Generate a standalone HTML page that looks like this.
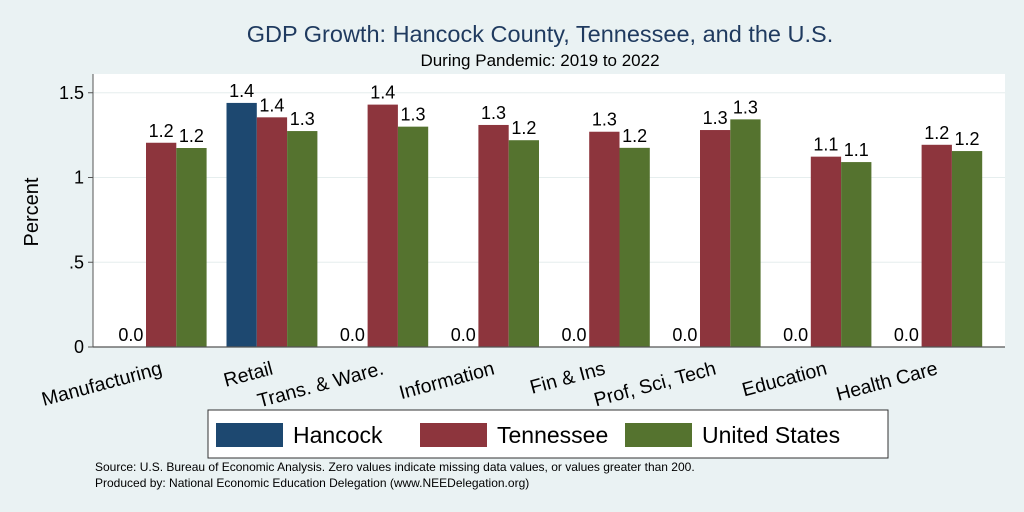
<!DOCTYPE html>
<html><head><meta charset="utf-8"><style>
body{margin:0;background:#eaf2f3;}
svg{display:block;font-family:"Liberation Sans",Arial,sans-serif;}
</style></head><body>
<svg id="chart" width="1024" height="512" viewBox="0 0 1024 512">
<rect x="0" y="0" width="1024" height="512" fill="#eaf2f3"/>
<text x="540" y="42" text-anchor="middle" font-size="23.5" fill="#1f3a5f">GDP Growth: Hancock County, Tennessee, and the U.S.</text>
<text x="540" y="66" text-anchor="middle" font-size="17" fill="#000">During Pandemic: 2019 to 2022</text>
<rect x="93" y="74" width="912" height="273" fill="#fff"/>
<g id="grid"></g>
<g id="bars"></g>
<g id="xlabels"></g>
<line x1="93" y1="74" x2="93" y2="347" stroke="#555" stroke-width="1"/>
<line x1="93" y1="347" x2="1005" y2="347" stroke="#555" stroke-width="1.2"/>
<text transform="translate(38,212) rotate(-90)" text-anchor="middle" font-size="20">Percent</text>
<g>
<rect x="208" y="410" width="680" height="48" fill="#fff" stroke="#333" stroke-width="1"/>
<rect x="216" y="423" width="67" height="24" fill="#1d4870"/>
<text x="293" y="443" font-size="23">Hancock</text>
<rect x="420" y="423" width="67" height="24" fill="#8d353d"/>
<text x="497" y="443" font-size="23">Tennessee</text>
<rect x="625" y="423" width="67" height="24" fill="#55732f"/>
<text x="702" y="443" font-size="23">United States</text>
</g>
<text x="95" y="471" font-size="12">Source: U.S. Bureau of Economic Analysis. Zero values indicate missing data values, or values greater than 200.</text>
<text x="95" y="487" font-size="12">Produced by: National Economic Education Delegation (www.NEEDelegation.org)</text>
</svg>
<script>
const categories=["Manufacturing","Retail","Trans. & Ware.","Information","Fin & Ins","Prof, Sci, Tech","Education","Health Care"];
const hancock=[0,1.44,0,0,0,0,0,0];
const tennessee=[1.205,1.355,1.43,1.31,1.27,1.28,1.123,1.193];
const unitedStates=[1.174,1.274,1.30,1.22,1.175,1.343,1.091,1.156];
const yTicks=[0,0.5,1,1.5];
const yTickLabels=["0",".5","1","1.5"];
const seriesNames=["hancock","tennessee","united-states"];
const colors=["#1d4870","#8d353d","#55732f"];
const NS="http://www.w3.org/2000/svg";
const y0=347, yScale=169.5;
function yPos(v){return y0-v*yScale;}
function groupX(i){return 115.7+i*110.8;}
const barW=30.3;
function mk(tag,attrs,parent){const e=document.createElementNS(NS,tag);for(const k in attrs)e.setAttribute(k,attrs[k]);parent.appendChild(e);return e;}
const grid=document.getElementById('grid');
yTicks.forEach((t,i)=>{
  const y=yPos(t);
  if(t>0){const l=mk('line',{x1:93,x2:1005,y1:y,y2:y,stroke:'#e6eeee','stroke-width':1},grid);
  
  }
  const tk=mk('line',{x1:88,x2:93,y1:y,y2:y,stroke:'#555'},grid);
  
  
  const tx=mk('text',{x:84,y:y+6,'text-anchor':'end','font-size':18},grid);
  tx.textContent=yTickLabels[i];
  
  
});
const bars=document.getElementById('bars');
const series=[hancock,tennessee,unitedStates];
categories.forEach((c,i)=>{
  series.forEach((s,j)=>{
    const v=s[i];const x=groupX(i)+j*barW;const y=yPos(v);
    if(v>0){const r=mk('rect',{x:x,y:y,width:barW,height:y0-y,fill:colors[j]},bars);
    
    }
    const t=mk('text',{x:x+barW/2,y:y-6,'text-anchor':'middle','font-size':18},bars);
    t.textContent=v.toFixed(1);
    
    
  });
  const cx=groupX(i)+1.5*barW;
  const lt=mk('text',{transform:'translate('+(cx+2)+',374) rotate(-15)','text-anchor':'end','font-size':19.5},document.getElementById('xlabels'));
  lt.textContent=c;
  
  
});
</script>
</body></html>
